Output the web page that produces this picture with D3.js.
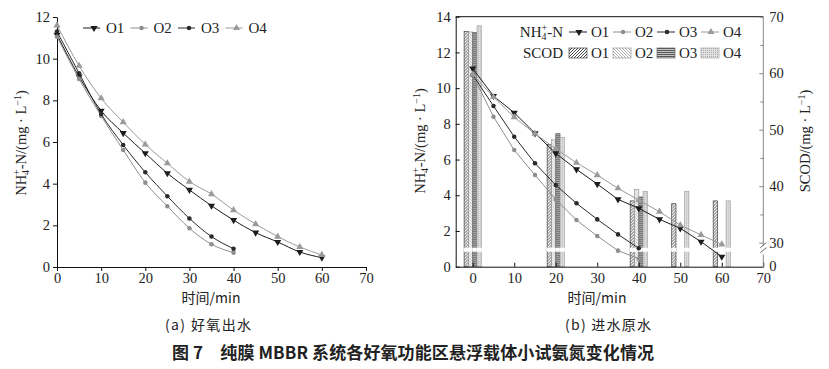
<!DOCTYPE html>
<meta charset="utf-8">
<title>NH4-N change</title>
<style>
body { margin: 0; background: #fff; }
svg text { font-family: "Liberation Serif", "Times New Roman", serif; fill: #222; }
.cjk { font-family: "Noto Sans CJK SC", sans-serif; }
</style>
<body>
<svg id="chart" width="829" height="369"></svg>
<script src="https://cdn.jsdelivr.net/npm/d3@7"></script>
<script>
// ---------------- data ----------------
const series = ["O1", "O2", "O3", "O4"];

// (a) aerobic effluent, NH4+-N mg/L
const effTime = [0, 5, 10, 15, 20, 25, 30, 35, 40, 45, 50, 55, 60];
const effO1 = [11.15, 9.14, 7.5, 6.43, 5.46, 4.5, 3.7, 2.94, 2.25, 1.65, 1.2, 0.72, 0.45];
const effO2 = [11.05, 9.03, 7.25, 5.62, 4.05, 2.92, 1.86, 1.09, 0.69];
const effO3 = [11.3, 9.3, 7.34, 5.86, 4.55, 3.4, 2.33, 1.46, 0.88];
const effO4 = [11.6, 9.66, 8.1, 6.95, 5.88, 4.98, 4.1, 3.5, 2.73, 2.06, 1.46, 0.96, 0.58];

// (b) raw influent, NH4+-N mg/L
const rawTime = [0, 5, 10, 15, 20, 25, 30, 35, 40, 45, 50, 55, 60];
const rawO1 = [11.1, 9.56, 8.62, 7.47, 6.35, 5.45, 4.63, 3.77, 3.27, 2.65, 2.15, 1.4, 0.56];
const rawO2 = [10.75, 8.4, 6.53, 5.13, 3.77, 2.61, 1.72, 0.9, 0.45];
const rawO3 = [10.75, 9.0, 7.28, 5.79, 4.57, 3.55, 2.65, 1.81, 1.03];
const rawO4 = [10.75, 9.5, 8.37, 7.45, 6.6, 5.82, 5.13, 4.39, 3.73, 3.08, 2.33, 1.78, 1.25];

// (b) SCOD mg/L (null = not measured)
const scodTime = [0, 20, 40, 50, 60];
const scodO1 = [67.4, 47.4, 37.4, 36.9, 37.4];
const scodO2 = [67.3, 48.2, 39.4, null, null];
const scodO3 = [67.2, 49.3, 38.1, null, null];
const scodO4 = [68.4, 48.6, 39.1, 39.1, 37.4];

// ticks
const xTicks = [0, 10, 20, 30, 40, 50, 60, 70];
const yTicksA = [0, 2, 4, 6, 8, 10, 12];
const yTicksB = [0, 2, 4, 6, 8, 10, 12, 14];
const scodTicks = [30, 40, 50, 60, 70];
const scodMinor = [35, 45, 55, 65];

const effData = { O1: effO1, O2: effO2, O3: effO3, O4: effO4 };
const rawData = { O1: rawO1, O2: rawO2, O3: rawO3, O4: rawO4 };
const scodData = { O1: scodO1, O2: scodO2, O3: scodO3, O4: scodO4 };

const look = {
  O1: { color: "#1c1c1c", sym: d3.symbolTriangle, size: 22, rot: 180 },
  O2: { color: "#8e8e8e", sym: d3.symbolCircle, size: 16, rot: 0 },
  O3: { color: "#2a2a2a", sym: d3.symbolCircle, size: 16, rot: 0 },
  O4: { color: "#9a9a9a", sym: d3.symbolTriangle, size: 22, rot: 0 }
};

const svg = d3.select("#chart");

//////////////////////////////////////////////////
// patterns for SCOD bars
//////////////////////////////////////////////////
const defs = svg.append("defs");
function pattern(id, w, h, bg) {
  const p = defs.append("pattern").attr("id", id)
    .attr("patternUnits", "userSpaceOnUse").attr("width", w).attr("height", h);
  p.append("rect").attr("width", w).attr("height", h).attr("fill", bg);
  return p;
}
pattern("patO1", 3, 3, "#fff").append("path")
  .attr("d", "M-1,1 l2,-2 M0,3 l3,-3 M2,4 l2,-2")
  .attr("stroke", "#333").attr("stroke-width", 0.9);
pattern("patO2", 3, 3, "#fff").append("path")
  .attr("d", "M-1,2 l2,2 M0,0 l3,3 M2,-1 l2,2")
  .attr("stroke", "#9a9a9a").attr("stroke-width", 0.8);
pattern("patO3", 3, 2, "#c4c4c4").append("path")
  .attr("d", "M0,0.5 h3").attr("stroke", "#4a4a4a").attr("stroke-width", 0.9);
const p4 = pattern("patO4", 2, 2, "#e2e2e2");
p4.append("rect").attr("width", 1).attr("height", 1).attr("fill", "#a8a8a8");
const barStroke = { O1: "#444", O2: "#999", O3: "#666", O4: "#a5a5a5" };

//////////////////////////////////////////////////
// helpers
//////////////////////////////////////////////////
function styleAxis(g, col) {
  g.attr("font-family", "Liberation Serif, serif").attr("font-size", 14.5);
  g.selectAll(".domain, .tick line").attr("stroke", col || "#111");
  g.selectAll("text").attr("fill", "#222");
}

function markers(g, pts, s, x, y) {
  g.selectAll(null).data(pts).join("path")
    .attr("d", d3.symbol().type(look[s].sym).size(look[s].size))
    .attr("transform", d => `translate(${x(d[0])},${y(d[1])}) rotate(${look[s].rot})`)
    .attr("fill", look[s].color);
}

function nhLabel(sel, extra) {
  sel.append("tspan").text("NH");
  sel.append("tspan").attr("font-size", 10).attr("dy", 3).text("4");
  sel.append("tspan").attr("font-size", 10).attr("dx", -5).attr("dy", -9).text("+");
  sel.append("tspan").attr("dy", 6).text("-N" + (extra ? "/(mg · L" : ""));
  if (extra) {
    sel.append("tspan").attr("font-size", 10).attr("dy", -5).text("−1");
    sel.append("tspan").attr("dy", 5).text(")");
  }
}

//////////////////////////////////////////////////
// (a) panel
//////////////////////////////////////////////////
const pa = { x0: 57, y0: 17, w: 309, h: 250 };
const xa = d3.scaleLinear().domain([0, 70]).range([0, pa.w]);
const ya = d3.scaleLinear().domain([0, 12]).range([pa.h, 0]);
const ga = svg.append("g").attr("transform", `translate(${pa.x0},${pa.y0})`);

ga.append("g").attr("transform", `translate(0,${pa.h})`)
  .call(d3.axisBottom(xa).tickValues(xTicks).tickSize(4).tickSizeOuter(0).tickPadding(2))
  .call(styleAxis);
ga.append("g")
  .call(d3.axisLeft(ya).tickValues(yTicksA).tickSize(4).tickSizeOuter(0).tickPadding(3))
  .call(styleAxis);

const lineA = d3.line().x(d => xa(d[0])).y(d => ya(d[1])).curve(d3.curveMonotoneX);
series.forEach(s => {
  const pts = effData[s].map((v, i) => [effTime[i], v]);
  ga.append("path").datum(pts).attr("d", lineA)
    .attr("fill", "none").attr("stroke", look[s].color).attr("stroke-width", 1);
  markers(ga, pts, s, xa, ya);
});

// legend (a)
const legA = svg.append("g").attr("transform", "translate(83,28)");
series.forEach((s, i) => {
  const g = legA.append("g").attr("transform", `translate(${i * 47.5},0)`);
  g.append("line").attr("x1", 0).attr("x2", 17).attr("stroke", look[s].color);
  g.append("path").attr("d", d3.symbol().type(look[s].sym).size(look[s].size))
    .attr("transform", `translate(11,0) rotate(${look[s].rot})`).attr("fill", look[s].color);
  g.append("text").attr("x", 23).attr("y", 5).attr("font-size", 15).text(s);
});

svg.append("text").attr("transform", "translate(26,143) rotate(-90)")
  .attr("text-anchor", "middle").attr("font-size", 14.5).call(nhLabel, true);
svg.append("text").attr("class", "cjk").attr("x", 211).attr("y", 303)
  .attr("text-anchor", "middle").attr("font-size", 14).text("时间/min");

//////////////////////////////////////////////////
// (b) panel
//////////////////////////////////////////////////
const pb = { x0: 455.7, y0: 16.7, w: 307.6, h: 250 };
const xb = d3.scaleLinear().domain([-4.1, 70]).range([0, pb.w]);
const yb = d3.scaleLinear().domain([0, 14]).range([pb.h, 0]);
const yr = d3.scaleLinear().domain([0, 30, 70]).range([pb.h, 226, 0]);
const band = d3.scaleBand().domain(series).range([-8.6, 8.6]);
const gb = svg.append("g").attr("transform", `translate(${pb.x0},${pb.y0})`);

// bars
series.forEach(s => {
  const bars = scodData[s].map((v, i) => [scodTime[i], v]).filter(d => d[1] != null);
  gb.selectAll(null).data(bars).join("rect")
    .attr("x", d => xb(d[0]) + band(s))
    .attr("y", d => yr(d[1]))
    .attr("width", band.bandwidth())
    .attr("height", d => pb.h - yr(d[1]))
    .attr("fill", `url(#pat${s})`)
    .attr("stroke", barStroke[s]).attr("stroke-width", 0.7);
  // white gap marking the broken SCOD axis
  gb.selectAll(null).data(bars).join("rect")
    .attr("x", d => xb(d[0]) + band(s) - 0.5)
    .attr("y", 231).attr("width", band.bandwidth() + 1).attr("height", 4)
    .attr("fill", "#fff");
});

// frame + axes
gb.append("line").attr("x1", 0).attr("x2", pb.w).attr("y1", 0).attr("y2", 0)
  .attr("stroke", "#111");
gb.append("g").attr("transform", `translate(0,${pb.h})`)
  .call(d3.axisBottom(xb).tickValues(xTicks).tickSize(-4).tickSizeOuter(0).tickPadding(6))
  .call(styleAxis);
gb.append("g")
  .call(d3.axisLeft(yb).tickValues(yTicksB).tickSize(-4).tickSizeOuter(0).tickPadding(5))
  .call(styleAxis);

const rAxis = gb.append("g").attr("transform", `translate(${pb.w},0)`)
  .call(d3.axisRight(yr).tickValues(scodTicks).tickSize(-4).tickSizeOuter(0).tickPadding(6))
  .call(styleAxis, "#888");
rAxis.select(".domain").remove();
gb.append("g").attr("transform", `translate(${pb.w},0)`)
  .call(d3.axisRight(yr).tickValues(scodMinor).tickFormat("").tickSize(-3).tickSizeOuter(0))
  .call(g => g.select(".domain").remove())
  .selectAll("line").attr("stroke", "#888");
rAxis.append("path").attr("d", `M0,0V229M0,238V${pb.h}`).attr("stroke", "#888").attr("fill", "none");
rAxis.append("path").attr("d", "M-3,231 L3,226 M-3,236 L3,231").attr("stroke", "#666").attr("fill", "none");
rAxis.append("text").attr("x", 6).attr("y", pb.h).attr("dy", "0.32em")
  .attr("font-size", 14.5).attr("fill", "#222").text("0");

const lineB = d3.line().x(d => xb(d[0])).y(d => yb(d[1]));
series.forEach(s => {
  const pts = rawData[s].map((v, i) => [rawTime[i], v]);
  gb.append("path").datum(pts).attr("d", lineB)
    .attr("fill", "none").attr("stroke", look[s].color).attr("stroke-width", 1);
  markers(gb, pts, s, xb, yb);
});

// legend (b)
const legB = svg.append("g").attr("transform", "translate(569,0)");
legB.append("text").attr("x", -6).attr("y", 37).attr("text-anchor", "end")
  .attr("font-size", 15).call(nhLabel, false);
legB.append("text").attr("x", -6).attr("y", 58).attr("text-anchor", "end")
  .attr("font-size", 15).text("SCOD");
series.forEach((s, i) => {
  const g = legB.append("g").attr("transform", `translate(${i * 44},0)`);
  g.append("line").attr("x1", 0).attr("x2", 18).attr("y1", 32).attr("y2", 32).attr("stroke", look[s].color);
  g.append("path").attr("d", d3.symbol().type(look[s].sym).size(look[s].size))
    .attr("transform", `translate(10,32) rotate(${look[s].rot})`).attr("fill", look[s].color);
  g.append("text").attr("x", 22).attr("y", 37).attr("font-size", 15).text(s);
  g.append("rect").attr("x", 0).attr("y", 48).attr("width", 18).attr("height", 10)
    .attr("fill", `url(#pat${s})`).attr("stroke", barStroke[s]).attr("stroke-width", 0.7);
  g.append("text").attr("x", 22).attr("y", 58).attr("font-size", 15).text(s);
});

svg.append("text").attr("transform", "translate(425,141) rotate(-90)")
  .attr("text-anchor", "middle").attr("font-size", 14.5).call(nhLabel, true);
const scodLab = svg.append("text").attr("transform", "translate(810,141) rotate(-90)")
  .attr("text-anchor", "middle").attr("font-size", 14.5);
scodLab.append("tspan").text("SCOD/(mg · L");
scodLab.append("tspan").attr("font-size", 10).attr("dy", -5).text("−1");
scodLab.append("tspan").attr("dy", 5).text(")");
svg.append("text").attr("class", "cjk").attr("x", 597).attr("y", 303)
  .attr("text-anchor", "middle").attr("font-size", 14).text("时间/min");

//////////////////////////////////////////////////
// captions
//////////////////////////////////////////////////
svg.append("text").attr("class", "cjk").attr("x", 208).attr("y", 330)
  .attr("text-anchor", "middle").attr("font-size", 14)
  .attr("textLength", 86).attr("lengthAdjust", "spacing").text("(a) 好氧出水");
svg.append("text").attr("class", "cjk").attr("x", 608).attr("y", 330)
  .attr("text-anchor", "middle").attr("font-size", 14)
  .attr("textLength", 86).attr("lengthAdjust", "spacing").text("(b) 进水原水");
svg.append("text").attr("class", "cjk").attr("x", 413).attr("y", 359)
  .attr("text-anchor", "middle").attr("font-size", 17).attr("font-weight", "bold")
  .attr("textLength", 482).attr("lengthAdjust", "spacing")
  .text("图 7　纯膜 MBBR 系统各好氧功能区悬浮载体小试氨氮变化情况");
</script>
</body>
